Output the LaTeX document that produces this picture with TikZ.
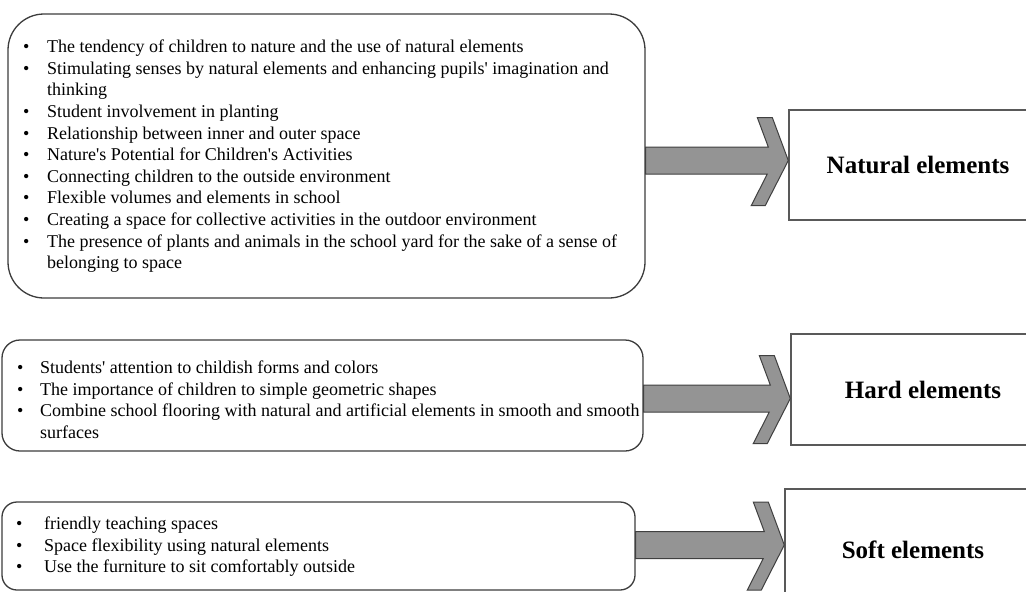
\documentclass[tikz,border=0pt]{standalone}
\usepackage{fontspec}
\setmainfont{Liberation Serif}
\usetikzlibrary{calc}
\definecolor{boxline}{RGB}{60,60,60}
\definecolor{arrowfill}{RGB}{148,148,148}
\definecolor{arrowline}{RGB}{64,64,64}
\begin{document}
\begin{tikzpicture}[x=1pt,y=-1pt,
  listbox/.style={draw=boxline,line width=1.3pt,fill=white,inner sep=0pt},
  catbox/.style={draw=boxline!85,line width=1.4pt,fill=white,inner sep=0pt,
     font=\fontsize{25}{30}\selectfont\bfseries},
  listtext/.style={anchor=north west,inner sep=0pt,align=left,
     font=\fontsize{18}{21.6}\selectfont},
  blockarrow/.style={fill=arrowfill,draw=arrowline,line width=1pt,line join=miter}]
\useasboundingbox (0,0) rectangle (1026,592);
\clip (0,0) rectangle (1026,592);
\fill[white] (0,0) rectangle (1026,592);

% left boxes
\node[listbox,rounded corners=36pt,minimum width=637pt,minimum height=284pt] (b1) at (326.5,156) {};
\node[listbox,rounded corners=18pt,minimum width=641pt,minimum height=111pt] (b2) at (322.5,395.5) {};
\node[listbox,rounded corners=15pt,minimum width=633pt,minimum height=88pt] (b3) at (318.5,546) {};

% right boxes
\node[catbox,minimum width=258pt,minimum height=110pt] (c1) at (918,165) {Natural elements};
\node[catbox,minimum width=264pt,minimum height=111pt] (c2) at (923,389.5) {Hard elements};
\node[catbox,minimum width=256pt,minimum height=122pt] (c3) at (913,550) {Soft elements};

% texts
\node[listtext] (t1) at (23,37.4) {\begin{tabular}{@{}p{24pt}@{}l@{}}
\textbullet & The tendency of children to nature and the use of natural elements\\
\textbullet & Stimulating senses by natural elements and enhancing pupils\textquotesingle{} imagination and\\
 & thinking\\
\textbullet & Student involvement in planting\\
\textbullet & Relationship between inner and outer space\\
\textbullet & Nature\textquotesingle s Potential for Children\textquotesingle s Activities\\
\textbullet & Connecting children to the outside environment\\
\textbullet & Flexible volumes and elements in school\\
\textbullet & Creating a space for collective activities in the outdoor environment\\
\textbullet & The presence of plants and animals in the school yard for the sake of a sense of\\
 & belonging to space
\end{tabular}};

\node[listtext] (t2) at (17,358.4) {\begin{tabular}{@{}p{23pt}@{}l@{}}
\textbullet & Students\textquotesingle{} attention to childish forms and colors\\
\textbullet & The importance of children to simple geometric shapes\\
\textbullet & Combine school flooring with natural and artificial elements in smooth and smooth\\
 & surfaces
\end{tabular}};

\node[listtext] (t3) at (16,514.4) {\begin{tabular}{@{}p{28pt}@{}l@{}}
\textbullet & friendly teaching spaces\\
\textbullet & Space flexibility using natural elements\\
\textbullet & Use the furniture to sit comfortably outside
\end{tabular}};

% arrows
\coordinate (tipA) at (c1.west |- 0,160.5);
\coordinate (tailA) at (b1.east |- tipA);
\coordinate (tipB) at (c2.west |- 0,398.5);
\coordinate (tailB) at (b2.east |- tipB);
\coordinate (tipC) at (c3.west |- 0,545);
\coordinate (tailC) at (b3.east |- tipC);
\foreach \s/\t in {tailA/tipA,tailB/tipB,tailC/tipC}{
  \draw[blockarrow] ($(\s)+(0,-13.5)$) -- ($(\t)+(-20,-13.5)$) -- ($(\t)+(-31,-43)$)
    -- ($(\t)+(-16,-43)$) -- (\t) -- ($(\t)+(-23,45)$) -- ($(\t)+(-37,45)$)
    -- ($(\t)+(-21,13.5)$) -- ($(\s)+(0,13.5)$) -- cycle;
}
\end{tikzpicture}
\end{document}
